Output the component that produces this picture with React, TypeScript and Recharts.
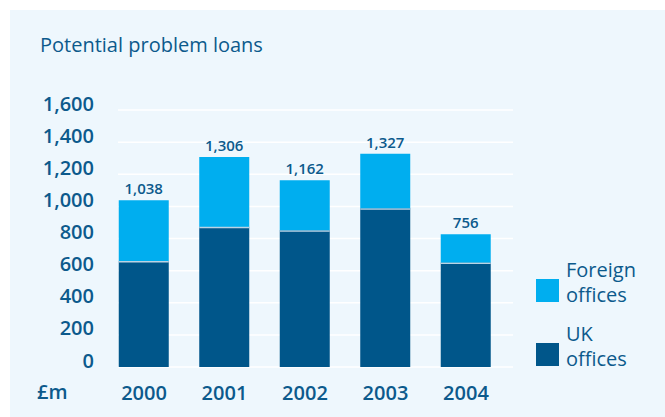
import React from 'react';
import { BarChart, Bar, XAxis, YAxis, CartesianGrid, LabelList, Legend } from 'recharts';

const years = [2000, 2001, 2002, 2003, 2004];
const ukOffices = [660, 873, 852, 989, 651];
const foreignOffices = [378, 434, 311, 338, 176];
const totalLabels = ['1,038', '1,306', '1,162', '1,327', '756'];
const yTicks = [0, 200, 400, 600, 800, 1000, 1200, 1400, 1600];
const legendOrder = ['foreign', 'uk'];

const UK_COLOR = '#00568a';
const FOREIGN_COLOR = '#00aeef';
const TEXT_COLOR = '#0c5a8c';
const BG = '#eef7fd';
const FONT = '"Open Sans", sans-serif';

const data = years.map((y, i) => ({
  year: y,
  uk: ukOffices[i],
  foreign: foreignOffices[i],
  label: totalLabels[i],
}));

const fmt = (v: number) => v.toLocaleString('en-GB');

const YTick = (p: any) => (
  <text x={p.x} y={p.y - 7} textAnchor="end" dominantBaseline="central"
    fontFamily={FONT} fontSize={20} fontWeight={600} fill={TEXT_COLOR}>
    {fmt(p.payload.value)}
  </text>
);

const XTick = (p: any) => (
  <text x={p.x} y={p.y} textAnchor="middle" dominantBaseline="central"
    fontFamily={FONT} fontSize={20} fontWeight={600} fill={TEXT_COLOR}>
    {p.payload.value}
  </text>
);

const UkShape = (p: any) => (
  <g>
    <rect x={p.x} y={p.y} width={p.width} height={p.height} fill={UK_COLOR} />
    <line x1={p.x} x2={p.x + p.width} y1={p.y + 0.75} y2={p.y + 0.75} stroke="#bcd3e4" strokeWidth={1.5} />
  </g>
);

const TotalLabel = (p: any) => (
  <text x={p.x + p.width / 2} y={p.y - 12} textAnchor="middle" dominantBaseline="central"
    fontFamily={FONT} fontSize={15} fontWeight={600} fill={TEXT_COLOR}>
    {p.value}
  </text>
);

const LegendContent = (props: any) => {
  const items = [...(props.payload || [])].sort(
    (a: any, b: any) => legendOrder.indexOf(a.dataKey) - legendOrder.indexOf(b.dataKey)
  );
  return (
    <div style={{ fontFamily: FONT, color: TEXT_COLOR, fontSize: 20, fontWeight: 500 }}>
      {items.map((it: any, i: number) => (
        <div key={i} style={{ position: 'relative', height: 50, marginBottom: 14 }}>
          <div style={{ position: 'absolute', left: 0, top: 22.5, width: 23, height: 23, background: it.color }} />
          <div style={{ position: 'absolute', left: 30, top: 0, lineHeight: '25px', whiteSpace: 'nowrap' }}>
            {String(it.value).split(' ').map((w: string, j: number) => (
              <div key={j}>{w}</div>
            ))}
          </div>
        </div>
      ))}
    </div>
  );
};

export default function App() {
  return (
    <div style={{ position: 'absolute', left: 0, top: 0, width: 665, height: 417, background: '#fff', overflow: 'hidden' }}>
      <div style={{ position: 'absolute', left: 10, top: 10, width: 655, height: 407, background: BG }} />
      <div style={{ position: 'absolute', left: 40, top: 32, fontFamily: FONT, fontSize: 20, fontWeight: 500, color: TEXT_COLOR, lineHeight: '26px', whiteSpace: 'nowrap' }}>
        Potential problem loans
      </div>
      <div style={{ position: 'absolute', left: 37, top: 379, fontFamily: FONT, fontSize: 20, fontWeight: 600, color: TEXT_COLOR, lineHeight: '26px' }}>
        £m
      </div>
      <div style={{ position: 'absolute', left: 0, top: 0 }}>
        <BarChart width={665} height={417} data={data} margin={{ top: 110, right: 152, bottom: 20, left: 0 }}>
          <CartesianGrid horizontal vertical={false} stroke="#ffffff" strokeWidth={1.5} />
          <XAxis dataKey="year" type="number" domain={[1999.677, 2004.584]} allowDataOverflow
            ticks={years} interval={0} axisLine={false} tickLine={false} tickSize={0} tickMargin={25}
            height={30} tick={<XTick />} />
          <YAxis type="number" domain={[0, 1600]} ticks={yTicks} interval={0} axisLine={false}
            tickLine={false} tickSize={0} tickMargin={24} width={118} tick={<YTick />} />
          <Legend layout="horizontal" verticalAlign="middle" align="center" content={<LegendContent />}
            wrapperStyle={{ left: 536, top: 256.5, width: 125, height: 130 }} />
          <Bar dataKey="uk" name="UK offices" stackId="a" fill={UK_COLOR} barSize={50}
            shape={<UkShape />} isAnimationActive={false} />
          <Bar dataKey="foreign" name="Foreign offices" stackId="a" fill={FOREIGN_COLOR} barSize={50}
            isAnimationActive={false}>
            <LabelList dataKey="label" content={<TotalLabel />} />
          </Bar>
        </BarChart>
      </div>
    </div>
  );
}
